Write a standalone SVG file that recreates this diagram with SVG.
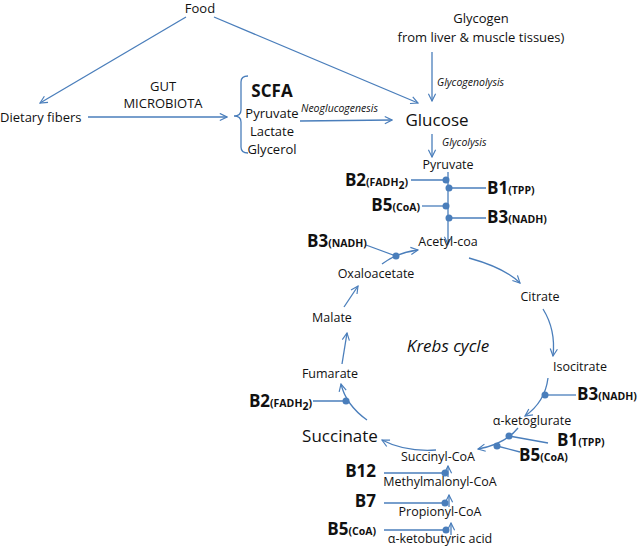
<svg xmlns="http://www.w3.org/2000/svg" width="638" height="546" viewBox="0 0 638 546">
<style>
text{font-family:"Open Sans","Liberation Sans",sans-serif;fill:#111}
.n{font-size:13px}
.s{font-size:12.5px}
.i{font-size:10.5px;font-style:italic}
.b{font-size:17px;font-weight:bold}
.sub{font-size:10.5px;font-weight:bold}
.big{font-size:17px}
line,path{stroke:#4a7ebb;stroke-width:1.3;fill:none}
circle{fill:#4a7ebb}
</style>
<defs>
<marker id="a" viewBox="0 0 10 10" refX="9" refY="5" markerWidth="9" markerHeight="9" orient="auto" markerUnits="userSpaceOnUse"><path d="M1,1 L9,5 L1,9"/></marker>
</defs>
<rect width="638" height="546" fill="#fff"/>
<g id="connectors">
<line x1="186" y1="17" x2="40" y2="103" marker-end="url(#a)"/>
<line x1="214" y1="17" x2="418" y2="103" marker-end="url(#a)"/>
<line x1="432" y1="52" x2="432" y2="101" marker-end="url(#a)"/>
<line x1="88" y1="117" x2="227" y2="117" marker-end="url(#a)"/>
<path d="M248,76 Q241,76 241,82 L241,110 Q241,116 234,116 Q241,116 241,122 L241,147 Q241,153 248,153"/>
<line x1="300" y1="121" x2="392" y2="120" marker-end="url(#a)"/>
<line x1="432" y1="134" x2="432" y2="157" marker-end="url(#a)"/>
<line x1="448" y1="172" x2="448" y2="244" marker-end="url(#a)"/>
<line x1="411" y1="180" x2="446" y2="180"/><circle cx="446" cy="180" r="3.5"/>
<line x1="449" y1="188" x2="486" y2="188"/><circle cx="449" cy="188" r="3.5"/>
<line x1="422" y1="206" x2="446" y2="206"/><circle cx="446" cy="206" r="3.5"/>
<line x1="449" y1="218" x2="486" y2="218"/><circle cx="449" cy="218" r="3.5"/>
<line x1="366" y1="245" x2="396" y2="256"/><circle cx="396" cy="256" r="3.5"/>
<path d="M382,264 Q396,253 418,250" marker-end="url(#a)"/>
<path d="M469,258 Q505,268 520,283" marker-end="url(#a)"/>
<path d="M543,309 Q556,330 553,356" marker-end="url(#a)"/>
<path d="M548,378 Q545,402 525,416" marker-end="url(#a)"/>
<line x1="545" y1="395" x2="576" y2="395"/><circle cx="545" cy="395" r="3.5"/>
<path d="M518,428 Q505,444 478,449" marker-end="url(#a)"/>
<line x1="509" y1="436" x2="548" y2="443"/><circle cx="509" cy="436" r="3.5"/>
<line x1="497" y1="446" x2="520" y2="452"/><circle cx="497" cy="446" r="3.5"/>
<path d="M436,450 Q405,452 382,440" marker-end="url(#a)"/>
<path d="M367,420 Q346,405 341,384" marker-end="url(#a)"/>
<line x1="313" y1="401" x2="346" y2="401"/><circle cx="346" cy="401" r="3.5"/>
<line x1="342" y1="364" x2="347" y2="333" marker-end="url(#a)"/>
<line x1="344" y1="307" x2="358" y2="286" marker-end="url(#a)"/>
<line x1="384" y1="473" x2="445" y2="473"/><circle cx="445" cy="473" r="3.5"/>
<line x1="448" y1="477" x2="448" y2="466" marker-end="url(#a)"/>
<line x1="384" y1="503" x2="445" y2="503"/><circle cx="445" cy="503" r="3.5"/>
<line x1="449" y1="507" x2="449" y2="495" marker-end="url(#a)"/>
<line x1="384" y1="530" x2="446" y2="530"/><circle cx="446" cy="530" r="3.5"/>
<line x1="451" y1="535" x2="451" y2="523" marker-end="url(#a)"/>
</g>
<g id="food"><text class="n" x="200" y="13" text-anchor="middle">Food</text></g>
<g id="glycogen"><text class="n" x="481" y="23" text-anchor="middle">Glycogen</text><text class="n" x="481" y="42" text-anchor="middle">from liver  &amp; muscle tissues)</text></g>
<g id="lbl-glycogenolysis"><text class="i" x="437" y="86">Glycogenolysis</text></g>
<g id="fibers"><text class="n" x="0" y="122">Dietary fibers</text></g>
<g id="gut"><text class="n" x="163" y="91" text-anchor="middle">GUT</text><text class="n" x="163" y="108" text-anchor="middle">MICROBIOTA</text></g>
<g id="scfa"><text class="b" x="272" y="97" text-anchor="middle">SCFA</text><text class="n" x="272" y="118" text-anchor="middle">Pyruvate</text><text class="n" x="272" y="136" text-anchor="middle">Lactate</text><text class="n" x="272" y="154" text-anchor="middle">Glycerol</text></g>
<g id="lbl-neo"><text class="i" x="301" y="112">Neoglucogenesis</text></g>
<g id="glucose"><text class="big" x="437" y="126" text-anchor="middle">Glucose</text></g>
<g id="lbl-glycolysis"><text class="i" x="442" y="146">Glycolysis</text></g>
<g id="pyruvate"><text class="s" x="448" y="169" text-anchor="middle">Pyruvate</text></g>
<g id="b2a"><text x="408" y="186" text-anchor="end"><tspan class="b">B2</tspan><tspan class="sub">(FADH</tspan><tspan class="sub" font-size="7" dy="3">2</tspan><tspan class="sub" dy="-3">)</tspan></text></g>
<g id="b1a"><text x="487" y="194"><tspan class="b">B1</tspan><tspan class="sub">(TPP)</tspan></text></g>
<g id="b5a"><text x="420" y="211" text-anchor="end"><tspan class="b">B5</tspan><tspan class="sub">(CoA)</tspan></text></g>
<g id="b3a"><text x="487" y="223"><tspan class="b">B3</tspan><tspan class="sub">(NADH)</tspan></text></g>
<g id="acetyl"><text class="s" x="448" y="246" text-anchor="middle">Acetyl-coa</text></g>
<g id="b3b"><text x="307" y="247"><tspan class="b">B3</tspan><tspan class="sub">(NADH)</tspan></text></g>
<g id="oxaloacetate"><text class="s" x="376" y="278" text-anchor="middle">Oxaloacetate</text></g>
<g id="citrate"><text class="s" x="540" y="301" text-anchor="middle">Citrate</text></g>
<g id="krebs"><text class="big" font-style="italic" x="448" y="352" text-anchor="middle">Krebs cycle</text></g>
<g id="malate"><text class="s" x="332" y="322" text-anchor="middle">Malate</text></g>
<g id="isocitrate"><text class="s" x="580" y="371" text-anchor="middle">Isocitrate</text></g>
<g id="fumarate"><text class="s" x="330" y="378" text-anchor="middle">Fumarate</text></g>
<g id="b3c"><text x="577" y="400"><tspan class="b">B3</tspan><tspan class="sub" font-size="10">(NADH)</tspan></text></g>
<g id="b2b"><text x="312" y="407" text-anchor="end"><tspan class="b">B2</tspan><tspan class="sub">(FADH</tspan><tspan class="sub" font-size="7" dy="3">2</tspan><tspan class="sub" dy="-3">)</tspan></text></g>
<g id="aketo"><text class="s" x="532" y="425" text-anchor="middle">α-ketoglurate</text></g>
<g id="succinate"><text class="big" x="340" y="442" text-anchor="middle">Succinate</text></g>
<g id="b1b"><text x="557" y="446"><tspan class="b">B1</tspan><tspan class="sub">(TPP)</tspan></text></g>
<g id="b5b"><text x="519" y="461"><tspan class="b">B5</tspan><tspan class="sub">(CoA)</tspan></text></g>
<g id="succinylcoa"><text class="s" x="438" y="461" text-anchor="middle">Succinyl-CoA</text></g>
<g id="b12"><text class="b" x="376" y="477" text-anchor="end">B12</text></g>
<g id="methylmalonyl"><text class="s" x="440" y="486" text-anchor="middle">Methylmalonyl-CoA</text></g>
<g id="b7"><text class="b" x="376" y="507" text-anchor="end">B7</text></g>
<g id="propionyl"><text class="s" x="440" y="516" text-anchor="middle">Propionyl-CoA</text></g>
<g id="b5c"><text x="376" y="535" text-anchor="end"><tspan class="b">B5</tspan><tspan class="sub">(CoA)</tspan></text></g>
<g id="ketobutyric"><text class="s" x="440" y="543" text-anchor="middle">α-ketobutyric acid</text></g>
</svg>
